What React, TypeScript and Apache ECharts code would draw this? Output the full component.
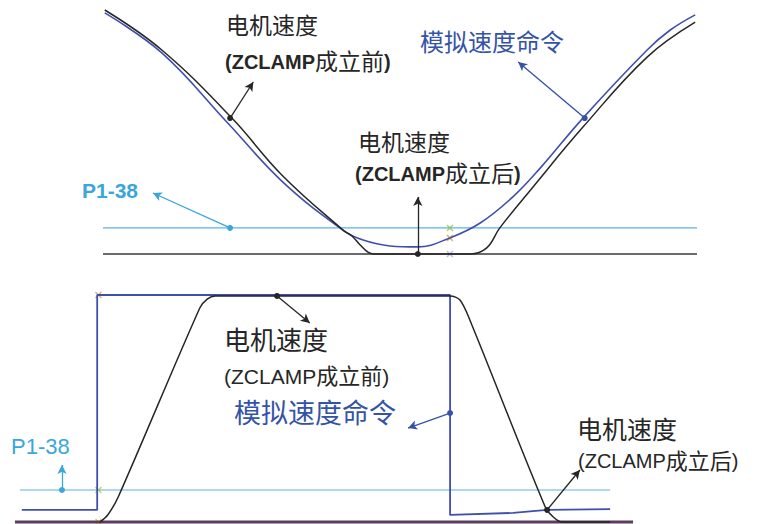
import React, { useEffect, useRef } from "react";
import * as echarts from "echarts";

// ---------- Top panel (time 0..100, speed 0..100) ----------
const topCmdT = [0.3, 9.9, 21.0, 30.1, 40.4, 43.8, 48.3, 53.0, 58.4, 63.5, 69.0, 73.6, 80.8, 91.6, 95.5, 99.7];
const topCmdV = [98.8, 82.4, 53.7, 29.9, 9.8, 5.7, 3.3, 2.9, 6.6, 12.7, 23.4, 35.2, 55.7, 83.6, 91.8, 98.0];
const topMotorT = [0.3, 9.9, 21.7, 30.1, 40.4, 41.9, 43.3, 44.6, 45.6, 61.8, 64.6, 66.8, 72.4, 80.8, 91.6, 99.7];
const topMotorV = [100, 83.6, 55.7, 32.4, 9.8, 7.4, 3.7, 0.8, 0, 0, 2.5, 10.7, 27.5, 52, 80.7, 95];
const topP138 = 10.7;
const topMarkT = 58.4;
const topMarkV = [10.7, 6.6, 0];
// arrows: [tailT, tailV, headT, headV]
const topArrowMotor = [21.4, 55.7, 25.3, 70.5];
const topArrowCmd = [81.1, 55.7, 69.9, 78.7];
const topArrowClamp = [53.0, 0, 53.0, 23.4];
const topArrowP138 = [21.4, 10.7, 8.4, 25.0];

// ---------- Bottom panel ----------
const botCmdT = [1.1, 13.3, 13.3, 70.4, 70.4, 80.6, 86.1, 96.3];
const botCmdV = [5.3, 5.3, 100, 100, 3.1, 4.0, 5.3, 5.7];
const botMotorT = [13.75, 15.0, 16.7, 29.9, 31.1, 32.4, 70.4, 72.0, 73.6, 85.8, 87.1, 88.5, 96.3];
const botMotorV = [0, 3.1, 11.0, 94.3, 98.2, 99.6, 99.6, 97.8, 89.0, 6.6, 2.2, 0, 0];
const botP138 = 14.1;
const botP138Range = [0.8, 96.3];
const botMarkT = 13.5;
const botMarkV = [100, 14.1, 0];
const botArrowMotor = [42.4, 99.6, 47.7, 87.7];
const botArrowCmd = [70.4, 48.0, 63.6, 41.4];
const botArrowP138 = [7.6, 14.1, 7.6, 25.1];
const botArrowClamp = [86.1, 5.3, 91.4, 22.9];

// ---------- Labels ----------
const labelMotor = "电机速度";
const labelBefore = "成立前";
const labelAfter = "成立后";
const labelCmd = "模拟速度命令";
const labelP138 = "P1-38";
const labelZ = "ZCLAMP";

const FONT = '"Liberation Sans", "Noto Sans CJK SC", sans-serif';
const BLUE = "#3f4fae";
const BLUE_TXT = "#3553a6";
const CYAN = "#3aa6dc";
const CYAN_LINE = "#5ab2e4";
const BLACK = "#262626";

const pair = (t: number[], v: number[]) => t.map((x, i) => [x, v[i]]);

const XMARK =
  "path://M0,1.5L1.5,0L5,3.5L8.5,0L10,1.5L6.5,5L10,8.5L8.5,10L5,6.5L1.5,10L0,8.5L3.5,5Z";

function arrow(a: number[], color: string) {
  return [
    {
      coord: [a[0], a[1]],
      symbol: "circle",
      symbolSize: 6,
      lineStyle: { color, width: 1.3, type: "solid" },
      itemStyle: { color },
    },
    { coord: [a[2], a[3]], symbol: "arrow", symbolSize: [7, 9], itemStyle: { color } },
  ];
}

function txt(x: number, y: number, text: string, size: number, color: string, extra: any = {}) {
  return {
    type: "text",
    x,
    y,
    silent: true,
    style: {
      text,
      fill: color,
      fontSize: size,
      fontFamily: FONT,
      verticalAlign: "top",
      align: "left",
      ...extra,
    },
  };
}

function richZ(x: number, y: number, tail: string, bold: boolean, zSize: number, cSize: number) {
  return {
    type: "text",
    x,
    y,
    silent: true,
    style: {
      text: `{b|(${labelZ}}{n|${tail}}{b|)}`,
      verticalAlign: "top",
      align: "left",
      rich: {
        b: { fontSize: zSize, fontWeight: bold ? "bold" : "normal", fontFamily: FONT, fill: BLACK },
        n: { fontSize: cSize, fontFamily: FONT, fill: BLACK },
      },
    },
  };
}

export default function App() {
  const ref = useRef<HTMLDivElement>(null);
  useEffect(() => {
    if (!ref.current) return;
    const chart = echarts.init(ref.current, undefined, { renderer: "svg" });
    const lineBase = { type: "line", showSymbol: false, silent: true, clip: false, symbol: "none" };
    const option: any = {
      animation: false,
      backgroundColor: "#ffffff",
      grid: [
        { left: 103, top: 10, width: 594, height: 244 },
        { left: 15, top: 295, width: 618, height: 227 },
      ],
      xAxis: [
        { gridIndex: 0, type: "value", min: 0, max: 100, show: false },
        { gridIndex: 1, type: "value", min: 0, max: 100, show: false },
      ],
      yAxis: [
        { gridIndex: 0, type: "value", min: 0, max: 100, show: false },
        { gridIndex: 1, type: "value", min: 0, max: 100, show: false },
      ],
      series: [
        // top
        {
          ...lineBase,
          name: "topBase",
          xAxisIndex: 0,
          yAxisIndex: 0,
          data: [[0, 0], [100, 0]],
          lineStyle: { color: "#3a3a3a", width: 1.5 },
          markLine: {
            silent: true,
            animation: false,
            label: { show: false },
            emphasis: { disabled: true },
            data: [
              arrow(topArrowMotor, BLACK),
              arrow(topArrowCmd, BLUE_TXT),
              arrow(topArrowClamp, BLACK),
              arrow(topArrowP138, CYAN),
            ],
          },
        },
        {
          ...lineBase,
          name: "topP138",
          xAxisIndex: 0,
          yAxisIndex: 0,
          data: [[0, topP138], [100, topP138]],
          lineStyle: { color: CYAN_LINE, width: 1.1 },
        },
        {
          ...lineBase,
          name: "topCmd",
          xAxisIndex: 0,
          yAxisIndex: 0,
          smooth: 0.4,
          data: pair(topCmdT, topCmdV),
          lineStyle: { color: BLUE, width: 1.6 },
        },
        {
          ...lineBase,
          name: "topMotor",
          xAxisIndex: 0,
          yAxisIndex: 0,
          smooth: 0.4,
          data: pair(topMotorT, topMotorV),
          lineStyle: { color: BLACK, width: 1.5 },
        },
        {
          type: "scatter",
          name: "topMarks",
          xAxisIndex: 0,
          yAxisIndex: 0,
          silent: true,
          symbol: XMARK,
          symbolSize: 7,
          data: [
            { value: [topMarkT, topMarkV[0]], itemStyle: { color: "#9ccc2c" } },
            { value: [topMarkT, topMarkV[1]], itemStyle: { color: "#d4a040" } },
            { value: [topMarkT, topMarkV[2]], itemStyle: { color: "#b8a8e6" } },
          ],
        },
        // bottom
        {
          ...lineBase,
          name: "botBase",
          xAxisIndex: 1,
          yAxisIndex: 1,
          data: [[0, 0], [100, 0]],
          lineStyle: { color: "#5a3c5c", width: 3 },
          markLine: {
            silent: true,
            animation: false,
            label: { show: false },
            emphasis: { disabled: true },
            data: [
              arrow(botArrowMotor, BLACK),
              arrow(botArrowCmd, BLUE_TXT),
              arrow(botArrowP138, CYAN),
              arrow(botArrowClamp, BLACK),
            ],
          },
        },
        {
          ...lineBase,
          name: "botP138",
          xAxisIndex: 1,
          yAxisIndex: 1,
          data: [[botP138Range[0], botP138], [botP138Range[1], botP138]],
          lineStyle: { color: CYAN_LINE, width: 1.1 },
        },
        {
          ...lineBase,
          name: "botCmd",
          xAxisIndex: 1,
          yAxisIndex: 1,
          data: pair(botCmdT, botCmdV),
          lineStyle: { color: BLUE, width: 1.8 },
        },
        {
          ...lineBase,
          name: "botMotor",
          xAxisIndex: 1,
          yAxisIndex: 1,
          smooth: 0.3,
          data: pair(botMotorT, botMotorV),
          lineStyle: { color: BLACK, width: 1.5 },
        },
        {
          type: "scatter",
          name: "botMarks",
          xAxisIndex: 1,
          yAxisIndex: 1,
          silent: true,
          symbol: XMARK,
          symbolSize: 7,
          data: [
            { value: [botMarkT, botMarkV[0]], itemStyle: { color: "#c8a050" } },
            { value: [botMarkT, botMarkV[1]], itemStyle: { color: "#a6d820" } },
            { value: [botMarkT, botMarkV[2]], itemStyle: { color: "#d6c440" } },
          ],
        },
      ],
      graphic: [
        // top
        txt(226, 14, labelMotor, 23, BLACK),
        richZ(225, 50, labelBefore, true, 20, 23),
        txt(420, 30, labelCmd, 24, BLUE_TXT),
        txt(358, 131, labelMotor, 23, BLACK),
        richZ(355, 162, labelAfter, true, 20, 23),
        txt(82, 180, labelP138, 21, CYAN, { fontWeight: "bold" }),
        // bottom
        txt(224, 328, labelMotor, 26, BLACK),
        richZ(224, 365, labelBefore, false, 21, 22),
        txt(234, 400, labelCmd, 27, BLUE_TXT),
        txt(11, 435, labelP138, 22, CYAN),
        txt(577, 417, labelMotor, 25, BLACK),
        richZ(578, 450, labelAfter, false, 20, 22),
      ],
    };
    chart.setOption(option);
    return () => chart.dispose();
  }, []);
  return (
    <div
      ref={ref}
      style={{ position: "fixed", left: 0, top: 0, width: 771, height: 524, background: "#fff" }}
    />
  );
}
